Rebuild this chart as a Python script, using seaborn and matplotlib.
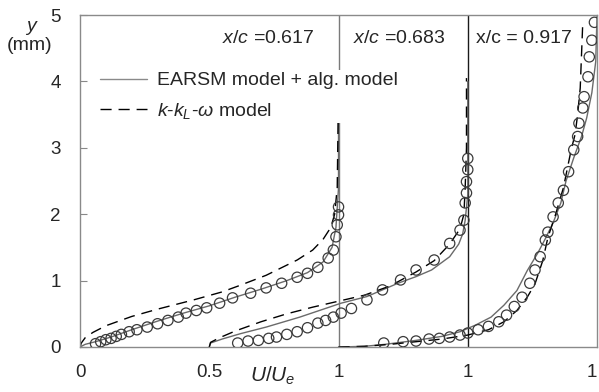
import numpy as np
import pandas as pd
import matplotlib
matplotlib.use("Agg")
import matplotlib.pyplot as plt
import seaborn as sns

sns.set_style("ticks")
plt.rcParams['font.family'] = ['Liberation Sans', 'DejaVu Sans']
plt.rcParams['mathtext.fontset'] = 'custom'
plt.rcParams['mathtext.rm'] = 'Liberation Sans'
plt.rcParams['mathtext.it'] = 'Liberation Sans:italic'

# stations and their offsets along the x axis
stations = ['x/c =0.617', 'x/c =0.683', 'x/c = 0.917']
offsets = [0.0, 0.5, 1.0]

# measured profiles (U/Ue, y in mm)
exp1_u = [0.06, 0.08, 0.10, 0.12, 0.14, 0.16, 0.19, 0.22, 0.26, 0.30, 0.34, 0.38, 0.41, 0.45,
          0.49, 0.54, 0.59, 0.66, 0.72, 0.78, 0.84, 0.88, 0.92, 0.96, 0.98, 0.99, 0.995, 1.0, 1.0]
exp1_y = [0.05, 0.08, 0.11, 0.13, 0.16, 0.19, 0.23, 0.26, 0.30, 0.35, 0.40, 0.45, 0.51, 0.55,
          0.59, 0.66, 0.74, 0.81, 0.89, 0.96, 1.05, 1.11, 1.20, 1.34, 1.46, 1.66, 1.84, 1.99, 2.11]
exp2_u = [0.11, 0.15, 0.19, 0.23, 0.26, 0.30, 0.34, 0.38, 0.42, 0.45, 0.48, 0.51, 0.55, 0.61,
          0.67, 0.74, 0.80, 0.87, 0.93, 0.97, 0.985, 0.99, 0.995, 0.995, 1.0, 1.0]
exp2_y = [0.06, 0.09, 0.10, 0.13, 0.15, 0.19, 0.23, 0.29, 0.36, 0.40, 0.45, 0.51, 0.58, 0.71,
          0.86, 1.01, 1.16, 1.31, 1.56, 1.76, 1.91, 2.17, 2.32, 2.49, 2.67, 2.84]
exp3_u = [0.175, 0.25, 0.30, 0.35, 0.39, 0.43, 0.47, 0.50, 0.54, 0.58, 0.62, 0.65, 0.68, 0.71,
          0.74, 0.76, 0.78, 0.80, 0.81, 0.83, 0.85, 0.87, 0.89, 0.91, 0.925, 0.93, 0.945, 0.95,
          0.965, 0.97, 0.98, 0.99]
exp3_y = [0.06, 0.08, 0.09, 0.12, 0.13, 0.15, 0.18, 0.21, 0.26, 0.31, 0.38, 0.48, 0.61, 0.75,
          0.96, 1.16, 1.36, 1.61, 1.73, 1.96, 2.17, 2.36, 2.64, 2.97, 3.17, 3.37, 3.60, 3.77,
          4.07, 4.37, 4.62, 4.89]

# EARSM model + alg. model
sol1_u = [0, 0.02, 0.06, 0.12, 0.2, 0.3, 0.4, 0.5, 0.6, 0.7, 0.8, 0.88, 0.94, 0.975, 0.99, 1.0, 1.0]
sol1_y = [0, 0.04, 0.08, 0.15, 0.26, 0.39, 0.51, 0.62, 0.75, 0.87, 1.0, 1.12, 1.28, 1.5, 1.8, 2.4, 4.0]
sol2_u = [0, 0.005, 0.05, 0.12, 0.22, 0.35, 0.51, 0.61, 0.73, 0.80, 0.86, 0.93, 0.965, 0.98, 0.99, 1.0, 1.0]
sol2_y = [0, 0.06, 0.12, 0.2, 0.30, 0.45, 0.66, 0.76, 0.96, 1.06, 1.16, 1.36, 1.55, 1.70, 1.91, 2.3, 4.0]
sol3_u = [0, 0.1, 0.18, 0.3, 0.4, 0.47, 0.53, 0.59, 0.64, 0.69, 0.73, 0.77, 0.80, 0.83, 0.86,
          0.88, 0.91, 0.94, 0.96, 0.98, 0.995, 1.0]
sol3_y = [0, 0.01, 0.04, 0.10, 0.16, 0.23, 0.33, 0.45, 0.63, 0.85, 1.15, 1.41, 1.63, 1.87, 2.17,
          2.5, 2.85, 3.17, 3.45, 3.83, 4.3, 5.0]

# k-kL-omega model
dash1_u = [0, 0.005, 0.02, 0.05, 0.1, 0.2, 0.3, 0.44, 0.55, 0.62, 0.72, 0.84, 0.90, 0.94, 0.97, 0.985, 0.995, 1.0]
dash1_y = [0, 0.06, 0.14, 0.22, 0.32, 0.46, 0.57, 0.71, 0.83, 0.93, 1.08, 1.31, 1.46, 1.62, 1.80, 2.0, 2.4, 3.9]
dash2_u = [0, 0.005, 0.04, 0.1, 0.2, 0.3, 0.4, 0.5, 0.6, 0.7, 0.8, 0.87, 0.93, 0.97, 0.985, 0.99, 0.995, 0.995]
dash2_y = [0, 0.07, 0.14, 0.24, 0.38, 0.50, 0.60, 0.69, 0.78, 0.92, 1.13, 1.30, 1.55, 1.78, 2.0, 2.4, 3.0, 4.05]
dash3_u = [0, 0.1, 0.2, 0.3, 0.4, 0.5, 0.58, 0.64, 0.69, 0.73, 0.76, 0.79, 0.81, 0.84, 0.87,
           0.90, 0.915, 0.925, 0.935, 0.945]
dash3_y = [0, 0.01, 0.04, 0.08, 0.12, 0.18, 0.26, 0.38, 0.55, 0.75, 0.95, 1.30, 1.65, 2.0, 2.4,
           2.97, 3.2, 3.5, 3.9, 4.9]

xticks = [0, 0.5, 1, 1.5, 2]
xticklabels = ['0', '0.5', '1', '1', '1']
yticks = [0, 1, 2, 3, 4, 5]


def frame(u, y, off, st):
    return pd.DataFrame({'x': np.array(u) + off, 'y': y, 'station': st})


exp = pd.concat([frame(exp1_u, exp1_y, offsets[0], stations[0]),
                 frame(exp2_u, exp2_y, offsets[1], stations[1]),
                 frame(exp3_u, exp3_y, offsets[2], stations[2])])
sol = pd.concat([frame(sol1_u, sol1_y, offsets[0], stations[0]),
                 frame(sol2_u, sol2_y, offsets[1], stations[1]),
                 frame(sol3_u, sol3_y, offsets[2], stations[2])])
dash = pd.concat([frame(dash1_u, dash1_y, offsets[0], stations[0]),
                  frame(dash2_u, dash2_y, offsets[1], stations[1]),
                  frame(dash3_u, dash3_y, offsets[2], stations[2])])

fig = plt.figure(figsize=(5.99, 3.92), dpi=100)
ax = fig.add_axes([0.1336, 0.1148, 0.8631, 0.8469])

# reference lines U/Ue = 1 for the first two stations
ax.axvline(1.0, color='#7a7a7a', lw=1.0, zorder=1)
ax.axvline(1.5, color='#1a1a1a', lw=1.0, zorder=1)

for st in stations:
    sns.lineplot(data=sol[sol.station == st], x='x', y='y', sort=False, estimator=None,
                 color='#6a6a6a', lw=1.0, ax=ax, zorder=2)
    sns.lineplot(data=dash[dash.station == st], x='x', y='y', sort=False, estimator=None,
                 color='black', lw=1.0, dashes=False, ax=ax, zorder=2,
                 linestyle=(0, (8, 5)))

sns.scatterplot(data=exp, x='x', y='y', marker='o', s=55, facecolor='none',
                edgecolor='#3a3a3a', linewidth=0.9, ax=ax, zorder=3)

# legend
h1, = ax.plot([], [], color='#8a8a8a', lw=1.0)
h2, = ax.plot([], [], color='black', lw=1.0, linestyle=(0, (8, 5)))
leg = ax.legend([h1, h2], ['EARSM model + alg. model', r'$k$-$k_L$-$\omega$ model'],
                loc='upper left', bbox_to_anchor=(0.035, 0.835), fontsize=14,
                handlelength=2.4, handletextpad=0.55, labelspacing=0.6,
                frameon=True, facecolor='white', edgecolor='none', framealpha=1.0,
                borderpad=0.1, borderaxespad=0)
leg.set_zorder(5)

# station labels
ax.text(0.55, 4.65, r'$x/c$ =0.617', fontsize=14, ha='left', va='center')
ax.text(1.055, 4.65, r'$x/c$ =0.683', fontsize=14, ha='left', va='center')
ax.text(1.53, 4.65, 'x/c = 0.917', fontsize=14, ha='left', va='center')

ax.set_xlim(0, 2)
ax.set_ylim(0, 5)
ax.set_xticks(xticks)
ax.set_xticklabels(xticklabels, fontsize=13.5)
ax.get_xticklabels()[-1].set_ha('right')
ax.set_yticks(yticks)
ax.set_yticklabels([str(v) for v in yticks], fontsize=13.5)
ax.tick_params(axis='y', direction='in', length=5, color='#888888', pad=14)
ax.tick_params(axis='x', length=0, pad=12)
ax.set_xlabel('')
ax.set_ylabel('')
for s in ax.spines.values():
    s.set_color('#8a8a8a')
    s.set_linewidth(1.0)

fig.text(0.053, 0.929, r'$y$', fontsize=14, ha='center', va='center')
fig.text(0.05, 0.885, '(mm)', fontsize=14, ha='center', va='center')
fig.text(0.455, 0.04, r'$U/U_e$', fontsize=15, ha='center', va='center')

fig.savefig('out.png', dpi=100)
